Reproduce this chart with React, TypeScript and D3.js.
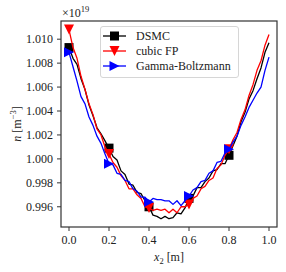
import { useEffect, useRef } from 'react'
import * as d3 from 'd3'

// positions along x2 [m], step 0.02
const xs = d3.range(51).map((i) => i / 50)

// n in units of 1e19 m^-3
const dsmc = [
    1.0093, 1.0084, 1.0079, 1.0067, 1.0058, 1.0045, 1.0036, 1.0026, 1.0021, 1.0015,
    1.0009, 1.0002, 0.9999, 0.999, 0.9987, 0.9979, 0.9978, 0.9972, 0.9971, 0.9965,
    0.996, 0.9953, 0.9952, 0.9950, 0.9952, 0.995, 0.9951, 0.9955, 0.9954, 0.9959,
    0.9967, 0.9969, 0.9976, 0.9976, 0.9981, 0.9984, 0.999, 0.9991, 0.9996, 0.9996,
    1.0003, 1.0011, 1.0019, 1.0031, 1.0039, 1.005, 1.0057, 1.0067, 1.0076, 1.0089,
    1.0097,
]
const cubicFP = [
    1.0108, 1.0093, 1.0084, 1.0069, 1.0058, 1.0046, 1.0037, 1.0025, 1.002, 1.001,
    1.0004, 0.9997, 0.9993, 0.9986, 0.9982, 0.9975, 0.9975, 0.997, 0.9967, 0.996,
    0.9959, 0.9957, 0.9958, 0.9957, 0.9958, 0.9955, 0.9958, 0.9955, 0.996, 0.996,
    0.9962, 0.9967, 0.9969, 0.9975, 0.9977, 0.9982, 0.9984, 0.9992, 0.9995, 1.0003,
    1.0008, 1.0016, 1.0022, 1.0033, 1.0041, 1.0053, 1.0062, 1.0074, 1.0082, 1.0095,
    1.0104,
]
const gammaB = [
    1.0089, 1.0077, 1.0065, 1.0052, 1.0046, 1.0035, 1.0028, 1.0019, 1.0013, 1.0004,
    0.9996, 0.9995, 0.9988, 0.9987, 0.9982, 0.9981, 0.9975, 0.9973, 0.9968, 0.9968,
    0.9964, 0.9967, 0.9966, 0.9966, 0.9965, 0.9965, 0.9962, 0.9965, 0.9961, 0.9965,
    0.9969, 0.9974, 0.9976, 0.9981, 0.9982, 0.9988, 0.999, 0.9997, 0.9998, 1.0005,
    1.0008, 1.0014, 1.0019, 1.0028, 1.0035, 1.0043, 1.0049, 1.0055, 1.006, 1.0074,
    1.0085,
]

const xTicks = [0, 0.2, 0.4, 0.6, 0.8, 1.0]
const yTicks = [0.996, 0.998, 1.0, 1.002, 1.004, 1.006, 1.008, 1.01]
const markEvery = 10

const series = [
    { name: 'DSMC', values: dsmc, color: '#000000', marker: 'square' },
    { name: 'cubic FP', values: cubicFP, color: '#ff0000', marker: 'down' },
    { name: 'Gamma-Boltzmann', values: gammaB, color: '#0000ff', marker: 'right' },
]

const FONT = 'Liberation Serif'

const markerPath = (type: string, r: number) => {
    if (type === 'square') return `M${-r},${-r}H${r}V${r}H${-r}Z`
    if (type === 'down') return `M${-r},${-r}H${r}L0,${r}Z`
    return `M${-r},${-r}L${r},0L${-r},${r}Z`
}

const App = () => {
    const ref = useRef<SVGSVGElement>(null)

    useEffect(() => {
        const width = 286
        const height = 272
        const left = 61
        const right = 277
        const top = 21
        const bottom = 227

        const x = d3.scaleLinear().domain([-0.04, 1.04]).range([left, right])
        const y = d3.scaleLinear().domain([0.99431, 1.01152]).range([bottom, top])

        const svg = d3.select(ref.current)
        svg.selectAll('*').remove()
        svg.attr('width', width).attr('height', height)

        svg.append('rect').attr('width', width).attr('height', height).attr('fill', '#fff')

        svg.append('defs')
            .append('clipPath')
            .attr('id', 'plot-clip')
            .append('rect')
            .attr('x', left)
            .attr('y', top)
            .attr('width', right - left)
            .attr('height', bottom - top)

        const line = d3
            .line<number>()
            .x((_, i) => x(xs[i]))
            .y((d) => y(d))

        const plot = svg.append('g').attr('clip-path', 'url(#plot-clip)')

        series.forEach((s) => {
            plot.append('path')
                .attr('d', line(s.values))
                .attr('fill', 'none')
                .attr('stroke', s.color)
                .attr('stroke-width', 1.3)
                .attr('stroke-linejoin', 'round')

            plot.append('g')
                .selectAll()
                .data(s.values.map((v, i) => ({ v, i })).filter((d) => d.i % markEvery === 0 && d.i < 50))
                .join('path')
                .attr('transform', (d) => `translate(${x(xs[d.i])},${y(d.v)})`)
                .attr('d', markerPath(s.marker, s.marker === 'square' ? 4.5 : 5))
                .attr('fill', s.color)
        })

        // axes frame
        svg.append('rect')
            .attr('x', left)
            .attr('y', top)
            .attr('width', right - left)
            .attr('height', bottom - top)
            .attr('fill', 'none')
            .attr('stroke', '#333')
            .attr('stroke-width', 1.2)

        // x ticks
        const xg = svg.append('g')
        xg.selectAll('line')
            .data(xTicks)
            .join('line')
            .attr('x1', (d) => x(d))
            .attr('x2', (d) => x(d))
            .attr('y1', bottom)
            .attr('y2', bottom + 4)
            .attr('stroke', '#333')
        xg.selectAll('text')
            .data(xTicks)
            .join('text')
            .attr('x', (d) => x(d))
            .attr('y', bottom + 17)
            .attr('text-anchor', 'middle')
            .attr('font-family', FONT)
            .attr('font-size', 12)
            .attr('fill', '#222')
            .text((d) => d3.format('.1f')(d))

        // y ticks
        const yg = svg.append('g')
        yg.selectAll('line')
            .data(yTicks)
            .join('line')
            .attr('x1', left - 4)
            .attr('x2', left)
            .attr('y1', (d) => y(d))
            .attr('y2', (d) => y(d))
            .attr('stroke', '#333')
        yg.selectAll('text')
            .data(yTicks)
            .join('text')
            .attr('x', left - 8)
            .attr('y', (d) => y(d))
            .attr('dy', '0.34em')
            .attr('text-anchor', 'end')
            .attr('font-family', FONT)
            .attr('font-size', 12)
            .attr('fill', '#222')
            .text((d) => d3.format('.3f')(d))

        // offset text
        const off = svg.append('text')
            .attr('x', left + 1)
            .attr('y', 17)
            .attr('font-family', FONT)
            .attr('font-size', 12)
            .attr('fill', '#222')
        off.append('tspan').text('×10')
        off.append('tspan').attr('dy', -5).attr('font-size', 8.5).text('19')

        // x label
        const xl = svg.append('text')
            .attr('x', (left + right) / 2)
            .attr('y', 261)
            .attr('text-anchor', 'middle')
            .attr('font-family', FONT)
            .attr('font-size', 12)
            .attr('fill', '#222')
        xl.append('tspan').attr('font-style', 'italic').text('x')
        xl.append('tspan').attr('dy', 3).attr('font-size', 8.5).text('2')
        xl.append('tspan').attr('dy', -3).text(' [m]')

        // y label
        const yl = svg.append('text')
            .attr('transform', `translate(21,${(top + bottom) / 2}) rotate(-90)`)
            .attr('text-anchor', 'middle')
            .attr('font-family', FONT)
            .attr('font-size', 12)
            .attr('fill', '#222')
        yl.append('tspan').attr('font-style', 'italic').text('n')
        yl.append('tspan').text(' [m')
        yl.append('tspan').attr('dy', -5).attr('font-size', 8.5).text('−3')
        yl.append('tspan').attr('dy', 5).text(']')

        // legend
        const lg = svg.append('g')
        lg.append('rect')
            .attr('x', 100.5)
            .attr('y', 26.5)
            .attr('width', 138)
            .attr('height', 51)
            .attr('rx', 2.5)
            .attr('fill', 'rgba(255,255,255,0.8)')
            .attr('stroke', '#d6d6d6')
            .attr('stroke-width', 1)
        series.forEach((s, i) => {
            const cy = 36 + i * 15
            lg.append('line')
                .attr('x1', 103)
                .attr('x2', 126)
                .attr('y1', cy)
                .attr('y2', cy)
                .attr('stroke', s.color)
                .attr('stroke-width', 1.3)
            lg.append('path')
                .attr('transform', `translate(114.5,${cy})`)
                .attr('d', markerPath(s.marker, s.marker === 'square' ? 4.5 : 5))
                .attr('fill', s.color)
            lg.append('text')
                .attr('x', 136)
                .attr('y', cy)
                .attr('dy', '0.34em')
                .attr('font-family', FONT)
                .attr('font-size', 12)
                .attr('fill', '#222')
                .text(s.name)
        })
    }, [])

    return <svg ref={ref} style={{ position: 'absolute', left: 0, top: 0 }} />
}

export default App
